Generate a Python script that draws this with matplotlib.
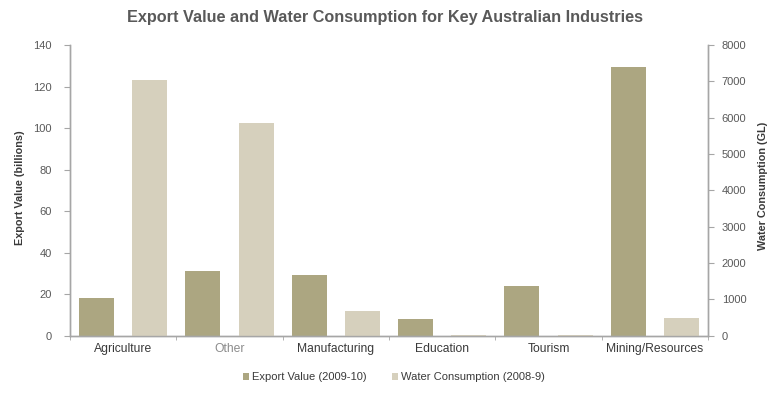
import numpy as np
import matplotlib
matplotlib.use("Agg")
import matplotlib.pyplot as plt

# --- data ---
industries = ["Agriculture", "Other", "Manufacturing", "Education", "Tourism", "Mining/Resources"]
export_value = [18.3, 31.2, 29.1, 7.9, 24.1, 129.3]      # billions, 2009-10
water_use = [7030, 5850, 690, 20, 15, 495]               # GL, 2008-9

export_ticks = [0, 20, 40, 60, 80, 100, 120, 140]
water_ticks = [0, 1000, 2000, 3000, 4000, 5000, 6000, 7000, 8000]

# --- style ---
EXPORT_COLOR = "#aca681"
WATER_COLOR = "#d6d0bd"
AXIS_COLOR = "#a6a6a6"
TICK_TEXT = "#595959"
LABEL_TEXT = "#3a3a3a"

plt.rcParams["font.family"] = ["Liberation Sans", "DejaVu Sans"]

fig = plt.figure(figsize=(7.74, 3.96), dpi=100)
ax = fig.add_axes([0.0904, 0.1523, 0.8243, 0.7341])
ax2 = ax.twinx()

x = np.arange(len(industries))
bar_w = 0.33
ax.bar(x - 0.25, export_value, width=bar_w, color=EXPORT_COLOR, label="Export Value (2009-10)", zorder=2)
ax2.bar(x + 0.25, water_use, width=bar_w, color=WATER_COLOR, label="Water Consumption (2008-9)", zorder=2)

ax.set_xlim(-0.5, len(industries) - 0.5)
ax.set_ylim(0, 140)
ax2.set_ylim(0, 8000)
ax.set_yticks(export_ticks)
ax2.set_yticks(water_ticks)

# category labels centred, tick marks on the category boundaries
ax.set_xticks(x)
ax.set_xticklabels(industries, fontsize=8.7, color=LABEL_TEXT)
ax.tick_params(axis="x", length=0, pad=5)
ax.get_xticklabels()[1].set_color("#8c8c8c")
ax.set_xticks(np.arange(len(industries) + 1) - 0.5, minor=True)
ax.tick_params(axis="x", which="minor", length=3, color=AXIS_COLOR, direction="out")

ax.tick_params(axis="y", length=4, color=AXIS_COLOR, labelsize=8, labelcolor=TICK_TEXT, pad=9)
ax2.tick_params(axis="y", length=4, color=AXIS_COLOR, labelsize=8, labelcolor=TICK_TEXT, pad=6)

for a in (ax, ax2):
    a.spines["top"].set_visible(False)
    for s in ("left", "right", "bottom"):
        a.spines[s].set_color(AXIS_COLOR)
        a.spines[s].set_linewidth(1.0)

fig.text(0.026, 0.525, "Export Value (billions)", rotation=90, ha="center", va="center",
         fontsize=7.8, fontweight="bold", color=LABEL_TEXT)
fig.text(0.986, 0.53, "Water Consumption (GL)", rotation=90, ha="center", va="center",
         fontsize=7.8, fontweight="bold", color=LABEL_TEXT)

fig.text(0.498, 0.957, "Export Value and Water Consumption for Key Australian Industries",
         ha="center", va="center", fontsize=11.7, fontweight="bold", color="#595959")

h1, l1 = ax.get_legend_handles_labels()
h2, l2 = ax2.get_legend_handles_labels()
fig.legend(h1 + h2, l1 + l2, loc="center", bbox_to_anchor=(0.509, 0.047), ncol=2,
           frameon=False, fontsize=8, handlelength=0.55, handleheight=0.55,
           handletextpad=0.3, columnspacing=2.2, labelcolor=LABEL_TEXT)

fig.savefig("out.png", dpi=100)
